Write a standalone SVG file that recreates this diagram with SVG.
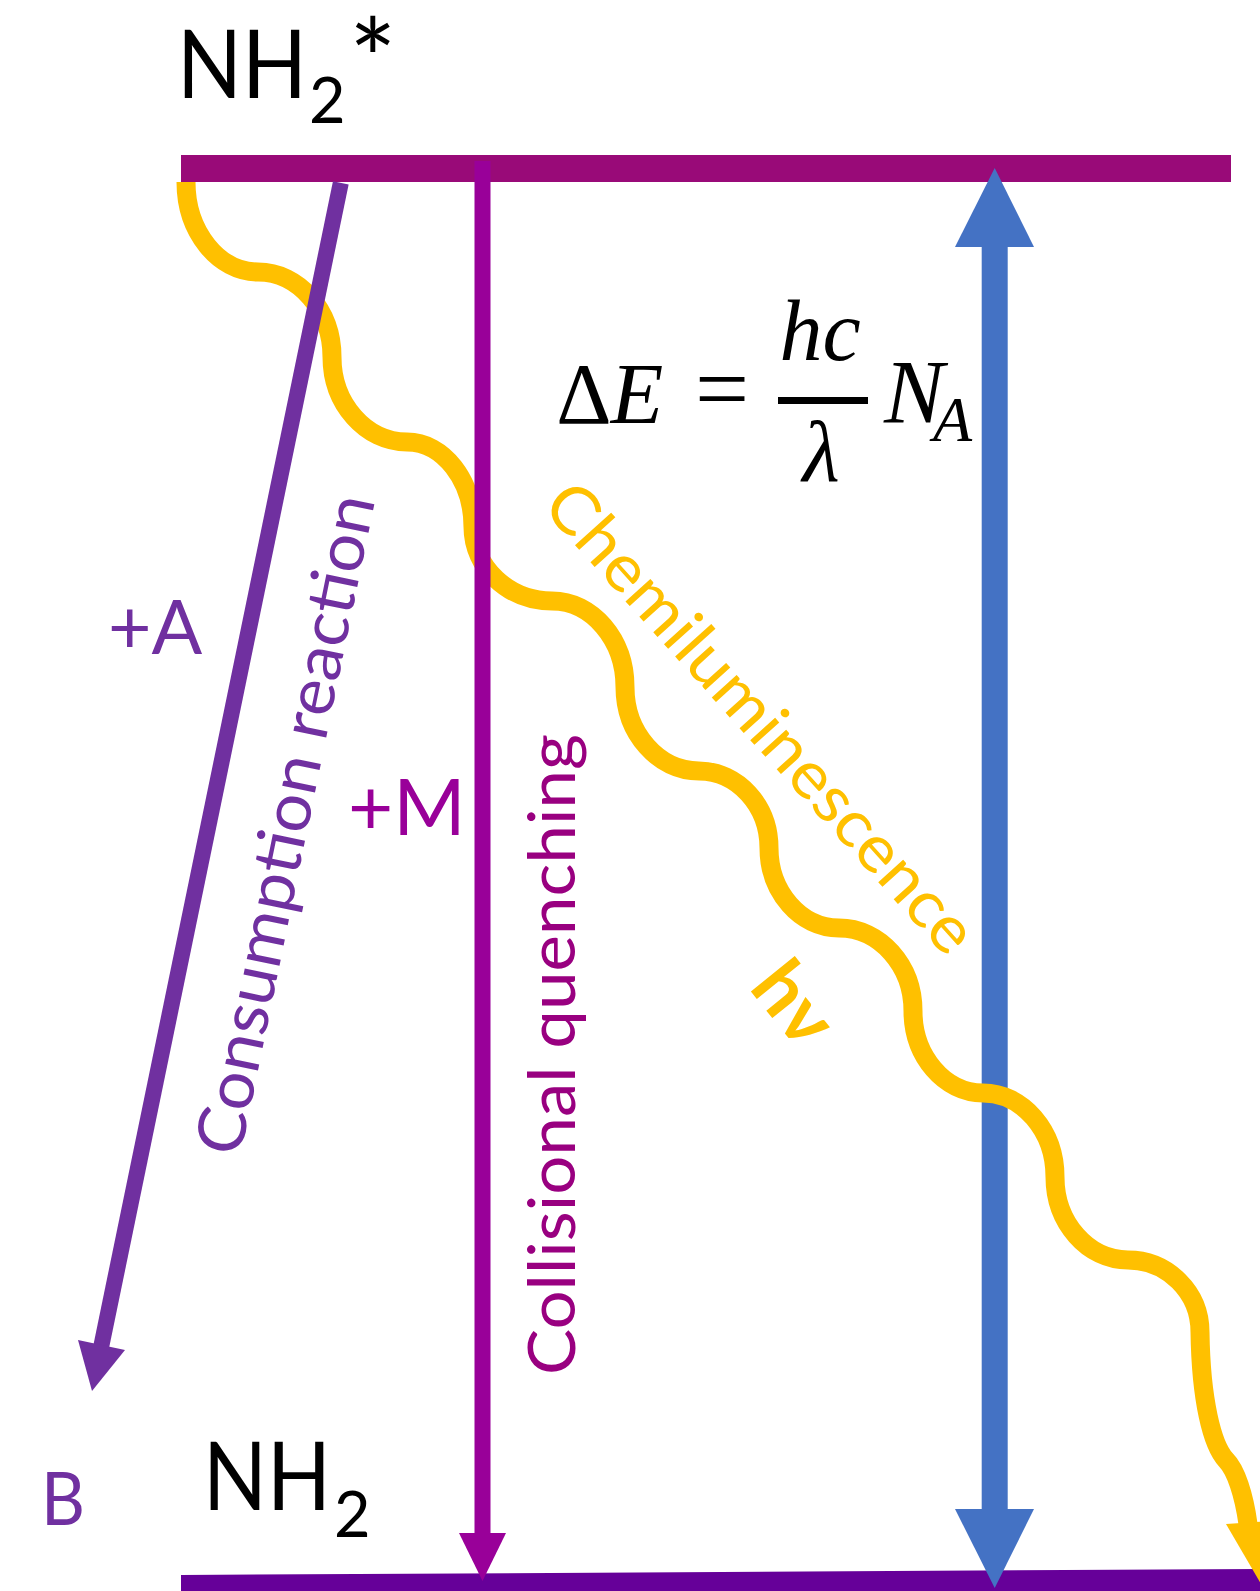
<svg xmlns="http://www.w3.org/2000/svg" width="1260" height="1591" viewBox="0 0 1260 1591">
<style>
.lbl{font-family:Lato,"Open Sans","Noto Sans",sans-serif}
.math{font-family:"Liberation Serif","DejaVu Serif",serif;font-style:italic}
.yellow{fill:none;stroke:#FFC000;stroke-width:19}
</style>
<rect width="1260" height="1591" fill="#ffffff"/>
<g id="level-ground">
<polygon points="181,1575 1260,1569 1260,1591 181,1591" fill="#660099"/>
<text class="lbl" y="1510" font-size="95" fill="#000"><tspan x="203" textLength="128" lengthAdjust="spacingAndGlyphs">NH</tspan><tspan x="334" y="1537" font-size="63">2</tspan></text>
</g>
<g id="level-excited">
<rect x="181" y="155" width="1050" height="27" fill="#990A78"/>
<text class="lbl" y="98" font-size="95" fill="#000"><tspan x="177" textLength="130" lengthAdjust="spacingAndGlyphs">NH</tspan><tspan x="309" y="123" font-size="63">2</tspan><tspan x="349" y="101" font-size="112">*</tspan></text>
</g>
<g id="product-B">
<text class="lbl" x="41" y="1525" font-size="74" textLength="44" lengthAdjust="spacingAndGlyphs" fill="#7030A0">B</text>
</g>
<g id="equation">
<text x="584" y="423" font-family="Liberation Serif,serif" font-size="86" text-anchor="middle">Δ</text>
<text class="math" x="637" y="423" font-size="86" text-anchor="middle">E</text>
<text x="722" y="421" font-family="Liberation Serif,serif" font-size="96" text-anchor="middle">=</text>
<rect x="778" y="397" width="90" height="7" fill="#000"/>
<text class="math" x="820" y="360" font-size="86" text-anchor="middle">hc</text>
<text class="math" x="821" y="481" font-size="86" text-anchor="middle">λ</text>
<text class="math" y="423" font-size="90"><tspan x="884">N</tspan><tspan x="933" y="441" font-size="64">A</tspan></text>
</g>
<g id="connectors">
<g id="energy-gap">
<rect x="981.7" y="246" width="26" height="1264" fill="#4472C4"/>
<polygon points="994.7,168 955,247 1034,247" fill="#4472C4"/>
<polygon points="955,1509 1034,1509 994.7,1588" fill="#4472C4"/>
</g>
<g id="chemiluminescence">
<path class="yellow" d="M186,182 C186,231.5 218.4,272 258,272 C298.7,272 332,310.3 332,357 C332,403.8 365.8,442 407,442 C443.3,442 473,480.3 473,527 C473,567.7 508.6,601 552,601 C592.2,601 625,639.7 625,687 C625,733.2 658.3,771 699,771 C737.5,771 769,805.6 769,848 C769,892 800.5,928 839,928 C879.7,928 913,965.3 913,1011 C913,1056.1 944.5,1093 983,1093 C1022.6,1093 1055,1130.8 1055,1177 C1055,1222.7 1087.8,1260 1128,1260 C1167.6,1260 1200,1292.4 1200,1332 C1201,1400 1212,1445 1226,1460 C1236,1470 1244,1495 1248,1524"/>
<polygon points="1226,1524 1286,1520 1261,1584" fill="#FFC000"/>
<text class="lbl" transform="translate(744,733) rotate(48)" text-anchor="middle" font-size="66" textLength="608" lengthAdjust="spacingAndGlyphs" fill="#FFC000">Chemiluminescence</text>
<text class="lbl" transform="translate(748,988) rotate(51)" font-size="76" font-weight="bold" fill="#FFC000">hν</text>
</g>
<g id="collisional-quenching">
<rect x="474.5" y="161" width="16" height="1373" fill="#990099"/>
<polygon points="459,1533 506,1533 482.5,1581" fill="#990099"/>
<text class="lbl" transform="translate(575,1375) rotate(-90)" font-size="66" textLength="641" lengthAdjust="spacingAndGlyphs" fill="#990080">Collisional quenching</text>
<text class="lbl" x="348" y="835" font-size="78" fill="#990099">+M</text>
</g>
<g id="consumption-reaction">
<line x1="340.8" y1="182.8" x2="100.5" y2="1350" stroke="#7030A0" stroke-width="16"/>
<polygon points="78,1340 125,1350 92,1391" fill="#7030A0"/>
<text class="lbl" transform="translate(240,1158) rotate(-78.4)" font-size="66" textLength="672" lengthAdjust="spacingAndGlyphs" fill="#7030A0">Consumption reaction</text>
<text class="lbl" x="108" y="654" font-size="75" fill="#7030A0">+A</text>
</g>
</g>
</svg>
